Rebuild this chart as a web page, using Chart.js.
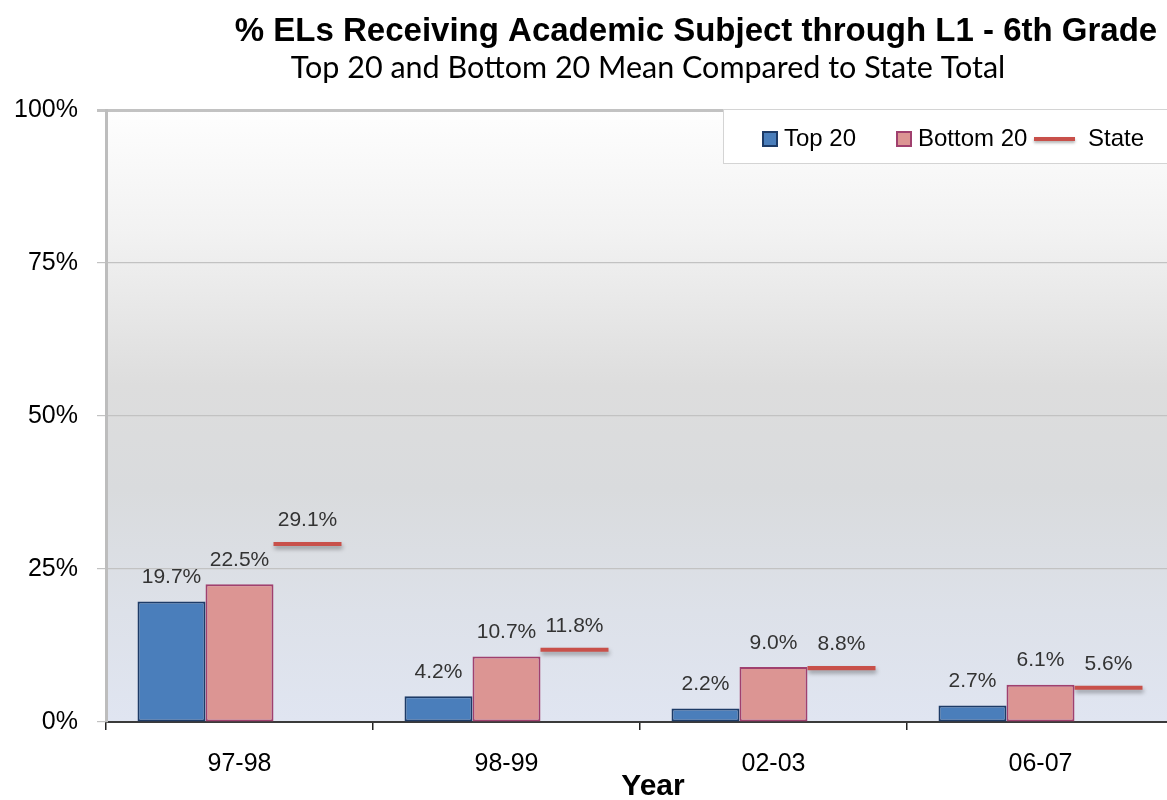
<!DOCTYPE html>
<html>
<head>
<meta charset="utf-8">
<script src="https://cdn.jsdelivr.net/npm/chart.js@4/dist/chart.umd.min.js"></script>
<style>
  html, body { margin: 0; padding: 0; background: #fff; overflow: hidden; }
  #wrap { position: relative; width: 1174px; height: 800px; }
  #legend {
    position: absolute; left: 723px; top: 109px; width: 460px; height: 55px;
    background: #fff; border: 1px solid #d4d4d4; box-sizing: border-box;
    font-family: "Liberation Sans", Arial, sans-serif; font-size: 24px; color: #000;
  }
  .li { position: absolute; top: 0; height: 55px; line-height: 55px; white-space: nowrap; }
  .sw { position: absolute; top: 21px; width: 12px; height: 12px; border: 2px solid; }
  .ln { position: absolute; top: 27px; width: 41px; height: 4px; box-shadow: 0 2px 3px rgba(0,0,0,0.3); }
</style>
</head>
<body>
<div id="wrap">
  <canvas id="c" width="1174" height="800"></canvas>
  <div id="legend"></div>
</div>
<script>
const categories = ['97-98', '98-99', '02-03', '06-07'];
const seriesNames = ['Top 20', 'Bottom 20', 'State'];
const top20 = [19.7, 4.2, 2.2, 2.7];
const bottom20 = [22.5, 10.7, 9.0, 6.1];
const state = [29.1, 11.8, 8.8, 5.6];
const yTickValues = [0, 25, 50, 75, 100];

const titleText = '% ELs Receiving Academic Subject through L1 - 6th Grade';
const subtitleText = 'Top 20 and Bottom 20 Mean Compared to State Total';
const xTitle = 'Year';

const colors = {
  top: '#4a7ebb', topBorder: '#1d3b67',
  bot: '#dc9593', botBorder: '#a0406e',
  state: '#c8504a'
};

const FONT = '"Liberation Sans", Arial, sans-serif';
const STATE_HALF = 0.33;

const bgPlugin = {
  id: 'bg',
  beforeDraw(chart) {
    const {ctx, chartArea: a} = chart;
    const g = ctx.createLinearGradient(0, a.top, 0, a.bottom);
    g.addColorStop(0, '#fefefe');
    g.addColorStop(0.2, '#f2f2f2');
    g.addColorStop(0.45, '#dddddd');
    g.addColorStop(0.62, '#d9dbdd');
    g.addColorStop(0.82, '#dde1e9');
    g.addColorStop(1, '#e0e5f1');
    ctx.save();
    ctx.fillStyle = g;
    ctx.fillRect(a.left, a.top, a.right - a.left, a.bottom - a.top);
    ctx.restore();
  }
};

const shadowPlugin = {
  id: 'shadow',
  beforeDatasetDraw(chart, args) {
    if (args.index === 2) {
      const ctx = chart.ctx;
      ctx.save();
      ctx.shadowColor = 'rgba(0,0,0,0.35)';
      ctx.shadowOffsetY = 3;
      ctx.shadowOffsetX = 1;
      ctx.shadowBlur = 4;
    }
  },
  afterDatasetDraw(chart, args) {
    if (args.index === 2) chart.ctx.restore();
  }
};

const labelPlugin = {
  id: 'labels',
  afterDatasetsDraw(chart) {
    const ctx = chart.ctx;
    const ys = chart.scales.y;
    const vals = [top20, bottom20, state];
    ctx.save();
    ctx.font = '21px ' + FONT;
    ctx.fillStyle = '#333';
    ctx.textAlign = 'center';
    ctx.textBaseline = 'middle';
    chart.data.datasets.forEach((ds, di) => {
      const meta = chart.getDatasetMeta(di);
      meta.data.forEach((el, i) => {
        const v = vals[di][i];
        const y = ys.getPixelForValue(v) - 24;
        ctx.fillText(v.toFixed(1) + '%', el.x, y);
      });
    });
    ctx.restore();
  }
};

const textPlugin = {
  id: 'texts',
  afterDraw(chart) {
    const ctx = chart.ctx;
    ctx.save();
    ctx.fillStyle = '#000';
    ctx.textBaseline = 'middle';
    ctx.textAlign = 'center';
    ctx.font = 'bold 33px ' + FONT;
    ctx.fillText(titleText, 696, 32);
    ctx.font = '30.5px Lato, "Open Sans", sans-serif';
    ctx.fillText(subtitleText, 648, 68);
    ctx.font = 'bold 30px ' + FONT;
    ctx.fillText(xTitle, 653, 787);
    ctx.restore();
  }
};

const chart = new Chart(document.getElementById('c'), {
  type: 'bar',
  data: {
    labels: categories,
    datasets: [
      { label: seriesNames[0], data: top20, backgroundColor: colors.top, borderColor: colors.topBorder, borderWidth: 2, borderSkipped: false },
      { label: seriesNames[1], data: bottom20, backgroundColor: colors.bot, borderColor: colors.botBorder, borderWidth: 2, borderSkipped: false },
      { label: seriesNames[2], data: state.map(v => [v - STATE_HALF, v + STATE_HALF]), backgroundColor: colors.state, borderWidth: 0 }
    ]
  },
  options: {
    responsive: false,
    animation: false,
    devicePixelRatio: 1,
    layout: { padding: { top: 110, left: 0, right: 0, bottom: 0 } },
    datasets: { bar: { categoryPercentage: 0.764, barPercentage: 1.0 } },
    plugins: { legend: { display: false }, tooltip: { enabled: false }, title: { display: false } },
    scales: {
      x: {
        afterFit(s) { s.height = 78; },
        grid: { display: true, drawOnChartArea: false, drawTicks: true, tickLength: 8, color: '#222', lineWidth: 1.5, offset: true },
        border: { display: true, color: '#3a3a3a', width: 2 },
        ticks: { font: { family: FONT, size: 25 }, color: '#000', padding: 19 }
      },
      y: {
        min: 0, max: 100,
        afterFit(s) { s.width = 106; },
        afterBuildTicks(s) { s.ticks = yTickValues.map(v => ({ value: v })); },
        grid: {
          color: '#c2c2c2',
          lineWidth: (c) => (c.tick && c.tick.value === 100 ? 3 : 1.2),
          tickLength: 9
        },
        border: { display: true, color: '#bdbdbd', width: 3 },
        ticks: { font: { family: FONT, size: 25 }, color: '#000', padding: 19, callback: (v) => v + '%' }
      }
    }
  },
  plugins: [bgPlugin, shadowPlugin, labelPlugin, textPlugin]
});

// HTML legend built from dataset names
const lg = document.getElementById('legend');
const items = [
  { name: seriesNames[0], type: 'box', fill: colors.top, border: colors.topBorder, mark: 38, text: 60 },
  { name: seriesNames[1], type: 'box', fill: colors.bot, border: colors.botBorder, mark: 172, text: 194 },
  { name: seriesNames[2], type: 'line', fill: colors.state, mark: 310, text: 364 }
];
items.forEach(it => {
  const m = document.createElement('div');
  if (it.type === 'box') {
    m.className = 'sw';
    m.style.background = it.fill;
    m.style.borderColor = it.border;
  } else {
    m.className = 'ln';
    m.style.background = it.fill;
  }
  m.style.left = it.mark + 'px';
  lg.appendChild(m);
  const t = document.createElement('div');
  t.className = 'li';
  t.style.left = it.text + 'px';
  t.textContent = it.name;
  lg.appendChild(t);
});
</script>
</body>
</html>
